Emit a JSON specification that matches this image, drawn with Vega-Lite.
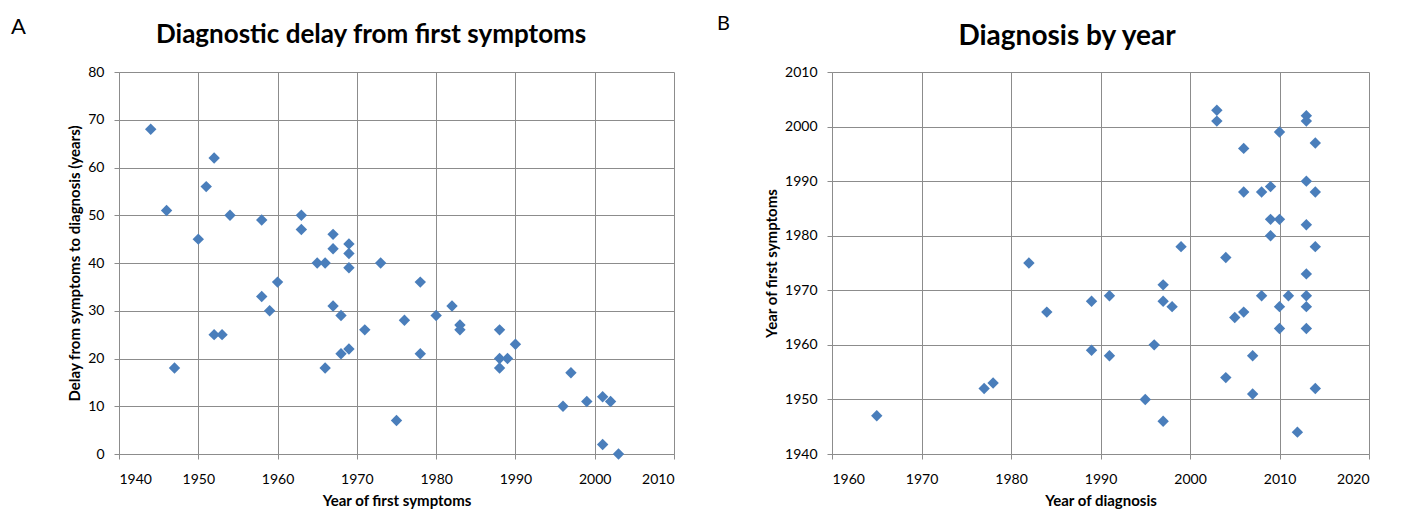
{
  "$schema": "https://vega.github.io/schema/vega-lite/v6.json",
  "padding": {"top": 14, "left": 5, "right": 5, "bottom": 5},
  "background": "white",
  "config": {
    "font": "Lato",
    "view": {"stroke": null},
    "concat": {"spacing": 0},
    "axis": {
      "grid": true,
      "gridColor": "#8c8c8c",
      "gridWidth": 1,
      "domainColor": "#8c8c8c",
      "tickColor": "#8c8c8c",
      "tickSize": 5,
      "labelFont": "Lato",
      "labelFontSize": 14,
      "labelColor": "#000000",
      "labelPadding": 10,
      "titleFont": "Lato",
      "titleFontSize": 15,
      "titleFontWeight": "bold",
      "titleColor": "#000000"
    },
    "axisX": {"labelPadding": 13},
    "title": {"font": "Lato", "fontWeight": "bold", "color": "#000000", "anchor": "middle", "frame": "bounds"}
  },
  "datasets": {
    "pts": [
      {"first": 1944, "delay": 68, "diag": 2012},
      {"first": 1946, "delay": 51, "diag": 1997},
      {"first": 1947, "delay": 18, "diag": 1965},
      {"first": 1950, "delay": 45, "diag": 1995},
      {"first": 1951, "delay": 56, "diag": 2007},
      {"first": 1952, "delay": 62, "diag": 2014},
      {"first": 1952, "delay": 25, "diag": 1977},
      {"first": 1953, "delay": 25, "diag": 1978},
      {"first": 1954, "delay": 50, "diag": 2004},
      {"first": 1958, "delay": 49, "diag": 2007},
      {"first": 1958, "delay": 33, "diag": 1991},
      {"first": 1959, "delay": 30, "diag": 1989},
      {"first": 1960, "delay": 36, "diag": 1996},
      {"first": 1963, "delay": 50, "diag": 2013},
      {"first": 1963, "delay": 47, "diag": 2010},
      {"first": 1965, "delay": 40, "diag": 2005},
      {"first": 1966, "delay": 40, "diag": 2006},
      {"first": 1966, "delay": 18, "diag": 1984},
      {"first": 1967, "delay": 46, "diag": 2013},
      {"first": 1967, "delay": 43, "diag": 2010},
      {"first": 1967, "delay": 31, "diag": 1998},
      {"first": 1968, "delay": 29, "diag": 1997},
      {"first": 1968, "delay": 21, "diag": 1989},
      {"first": 1969, "delay": 44, "diag": 2013},
      {"first": 1969, "delay": 42, "diag": 2011},
      {"first": 1969, "delay": 39, "diag": 2008},
      {"first": 1969, "delay": 22, "diag": 1991},
      {"first": 1971, "delay": 26, "diag": 1997},
      {"first": 1973, "delay": 40, "diag": 2013},
      {"first": 1975, "delay": 7, "diag": 1982},
      {"first": 1976, "delay": 28, "diag": 2004},
      {"first": 1978, "delay": 36, "diag": 2014},
      {"first": 1978, "delay": 21, "diag": 1999},
      {"first": 1980, "delay": 29, "diag": 2009},
      {"first": 1982, "delay": 31, "diag": 2013},
      {"first": 1983, "delay": 27, "diag": 2010},
      {"first": 1983, "delay": 26, "diag": 2009},
      {"first": 1988, "delay": 26, "diag": 2014},
      {"first": 1988, "delay": 20, "diag": 2008},
      {"first": 1988, "delay": 18, "diag": 2006},
      {"first": 1989, "delay": 20, "diag": 2009},
      {"first": 1990, "delay": 23, "diag": 2013},
      {"first": 1996, "delay": 10, "diag": 2006},
      {"first": 1997, "delay": 17, "diag": 2014},
      {"first": 1999, "delay": 11, "diag": 2010},
      {"first": 2001, "delay": 12, "diag": 2013},
      {"first": 2001, "delay": 2, "diag": 2003},
      {"first": 2002, "delay": 11, "diag": 2013},
      {"first": 2003, "delay": 0, "diag": 2003}
    ]
  },
  "hconcat": [
    {
      "width": 62,
      "height": 382,
      "title": {"text": "A", "anchor": "start", "frame": "group", "fontSize": 22, "fontWeight": "normal", "offset": 33, "dx": 6},
      "data": {"values": [{"label": ""}]},
      "mark": {"type": "text", "fontSize": 1},
      "encoding": {"text": {"field": "label", "type": "nominal"}}
    },
    {
      "width": 555,
      "height": 382,
      "title": {"text": "Diagnostic delay from first symptoms", "fontSize": 26, "offset": 17},
      "data": {"name": "pts"},
      "mark": {"type": "point", "shape": "diamond", "filled": true, "size": 130, "color": "#4a7ebb", "opacity": 1},
      "encoding": {
        "x": {
          "field": "first", "type": "quantitative",
          "scale": {"domain": [1940, 2010], "nice": false, "zero": false},
          "axis": {"title": "Year of first symptoms", "format": "d", "values": [1940, 1950, 1960, 1970, 1980, 1990, 2000, 2010], "titlePadding": 7}
        },
        "y": {
          "field": "delay", "type": "quantitative",
          "scale": {"domain": [0, 80], "nice": false},
          "axis": {"title": "Delay from symptoms to diagnosis (years)", "values": [0, 10, 20, 30, 40, 50, 60, 70, 80], "titlePadding": 5}
        }
      }
    },
    {
      "width": 89,
      "height": 382,
      "title": {"text": "B", "anchor": "start", "frame": "group", "fontSize": 20, "fontWeight": "normal", "offset": 38, "dx": 42},
      "data": {"values": [{"label": ""}]},
      "mark": {"type": "text", "fontSize": 1},
      "encoding": {"text": {"field": "label", "type": "nominal"}}
    },
    {
      "width": 537,
      "height": 382,
      "title": {"text": "Diagnosis by year", "fontSize": 28, "offset": 14},
      "data": {"name": "pts"},
      "mark": {"type": "point", "shape": "diamond", "filled": true, "size": 130, "color": "#4a7ebb", "opacity": 1},
      "encoding": {
        "x": {
          "field": "diag", "type": "quantitative",
          "scale": {"domain": [1960, 2020], "nice": false, "zero": false},
          "axis": {"title": "Year of diagnosis", "format": "d", "values": [1960, 1970, 1980, 1990, 2000, 2010, 2020], "titlePadding": 7}
        },
        "y": {
          "field": "first", "type": "quantitative",
          "scale": {"domain": [1940, 2010], "nice": false, "zero": false},
          "axis": {"title": "Year of first symptoms", "format": "d", "values": [1940, 1950, 1960, 1970, 1980, 1990, 2000, 2010], "titlePadding": 5}
        }
      }
    }
  ]
}
